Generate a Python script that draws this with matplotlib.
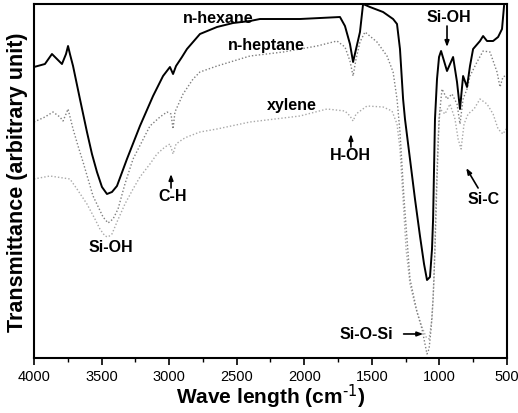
"""FTIR spectra of the aerogels dried from three solvents."""

import matplotlib
matplotlib.use("Agg")
import matplotlib.pyplot as plt
from matplotlib.ticker import MultipleLocator

plt.rcParams["font.family"] = ["Liberation Sans", "DejaVu Sans"]
plt.rcParams["mathtext.default"] = "regular"

# wavenumber (cm-1) and transmittance (arbitrary unit)
hexane_wn = [4000, 3919, 3867, 3830, 3793, 3763, 3748, 3734, 3711, 3660, 3608, 3571,
             3534, 3497, 3460, 3423, 3386, 3312, 3216, 3119, 3045, 2994, 2971, 2949,
             2905, 2868, 2772, 2646, 2527, 2402, 2328, 2032, 1736, 1699, 1662, 1639,
             1617, 1588, 1565, 1514, 1417, 1343, 1314, 1292, 1269, 1255, 1218, 1181,
             1144, 1114, 1092, 1070, 1055, 1047, 1033, 1018, 1003, 988, 944, 899, 870,
             848, 825, 796, 774, 751, 700, 677, 648, 603, 566, 537, 522]
hexane_t = [291, 294, 304, 299, 294, 304, 312, 304, 292, 259, 226, 204,
            186, 171, 164, 166, 172, 199, 232, 262, 282, 291, 284, 292,
            301, 309, 324, 331, 335, 337, 339, 339, 341, 332, 314, 296,
            309, 326, 354, 351, 346, 339, 334, 309, 259, 239, 199, 159,
            122, 94, 78, 81, 109, 139, 239, 279, 301, 307, 287, 301, 276,
            249, 282, 271, 292, 309, 317, 322, 317, 317, 321, 329, 352]

heptane_wn = [4000, 3919, 3859, 3808, 3785, 3763, 3748, 3711, 3674, 3637, 3563, 3489,
              3452, 3415, 3378, 3327, 3267, 3142, 3068, 3016, 2986, 2971, 2957, 2897,
              2823, 2772, 2646, 2402, 2157, 1906, 1758, 1699, 1662, 1639, 1617, 1588,
              1551, 1462, 1388, 1343, 1314, 1292, 1262, 1240, 1218, 1166, 1129, 1107,
              1092, 1077, 1062, 1047, 1033, 1018, 1003, 981, 944, 907, 870, 848, 825,
              796, 774, 722, 677, 626, 574, 552, 530, 515]
heptane_t = [236, 241, 246, 241, 237, 244, 249, 229, 212, 196, 162, 141,
             135, 139, 149, 174, 199, 232, 241, 246, 244, 229, 246, 264,
             279, 286, 292, 302, 306, 312, 317, 311, 297, 282, 299, 316,
             326, 316, 302, 286, 259, 226, 159, 119, 79, 46, 29, 14,
             4, 9, 29, 59, 109, 179, 239, 269, 259, 264, 254, 234, 259,
             269, 282, 296, 307, 306, 286, 271, 281, 282]

xylene_wn = [4000, 3882, 3734, 3682, 3608, 3549, 3512, 3475, 3452, 3423, 3386, 3327,
             3267, 3216, 3142, 3090, 3031, 2994, 2971, 2949, 2897, 2868, 2772, 2646,
             2402, 2032, 1832, 1699, 1662, 1639, 1617, 1536, 1417, 1351, 1314, 1292,
             1269, 1247, 1218, 1173, 1129, 1099, 1077, 1055, 1040, 1025, 1010, 996,
             959, 922, 885, 862, 840, 818, 788, 744, 700, 648, 603, 566, 530, 507]
xylene_t = [179, 182, 179, 169, 154, 139, 129, 122, 121, 124, 136, 154,
            169, 181, 194, 204, 211, 214, 204, 214, 219, 221, 226, 229,
            236, 242, 249, 247, 242, 237, 244, 252, 251, 247, 234, 209,
            159, 109, 74, 49, 31, 21, 19, 39, 79, 159, 219, 249,
            244, 254, 239, 219, 209, 234, 244, 249, 259, 254, 244, 229, 224, 229]

fig = plt.figure(figsize=(5.18, 4.14), dpi=100)
ax = fig.add_axes([0.0656, 0.1329, 0.9132, 0.855])

ax.plot(xylene_wn, xylene_t, color="#a9a9a9", lw=1.0, ls=(0, (1, 1.5)))
ax.plot(heptane_wn, heptane_t, color="#7f7f7f", lw=1.0, ls=(0, (1, 1.5)))
ax.plot(hexane_wn, hexane_t, color="black", lw=1.4)

ax.set_xlim(4000, 500)
ax.set_ylim(0, 354)

# curve names
bold = dict(fontsize=11.5, fontweight="bold", ha="center", va="center")
ax.text(2638, 341, "n-hexane", **bold)
ax.text(2283, 314, "n-heptane", **bold)
ax.text(2091, 254, "xylene", **bold)

# band assignments
arrow = dict(arrowstyle="-|>,head_width=0.13,head_length=0.35", color="black", lw=1.2,
             shrinkA=0, shrinkB=0)
ax.text(3430, 111, "Si-OH", **bold)
ax.text(2971, 162, "C-H", **bold)
ax.annotate("", xy=(2986, 184), xytext=(2986, 170), arrowprops=arrow)
ax.text(1662, 203, "H-OH", **bold)
ax.annotate("", xy=(1655, 224), xytext=(1655, 211), arrowprops=arrow)
ax.text(929, 342, "Si-OH", **bold)
ax.annotate("", xy=(944, 311), xytext=(944, 332), arrowprops=arrow)
ax.text(670, 159, "Si-C", **bold)
ax.annotate("", xy=(802, 190), xytext=(714, 170), arrowprops=arrow)
ax.text(1543, 24, "Si-O-Si", **bold)
ax.annotate("", xy=(1120, 24), xytext=(1265, 24), arrowprops=arrow)

ax.set_xlabel("Wave length (cm$^{\\text{-1}}$)", fontsize=15, fontweight="bold", labelpad=-1)
ax.set_ylabel("Transmittance (arbitrary unit)", fontsize=15.5, fontweight="bold", labelpad=4)

ax.xaxis.set_major_locator(MultipleLocator(500))
ax.xaxis.set_minor_locator(MultipleLocator(250))
ax.tick_params(axis="x", which="major", direction="out", length=5, width=1.2,
               labelsize=10.5, pad=3)
ax.tick_params(axis="x", which="minor", direction="out", length=3, width=1.0)
ax.set_yticks([])
for s in ax.spines.values():
    s.set_linewidth(1.5)

fig.savefig("out.png", dpi=100)
